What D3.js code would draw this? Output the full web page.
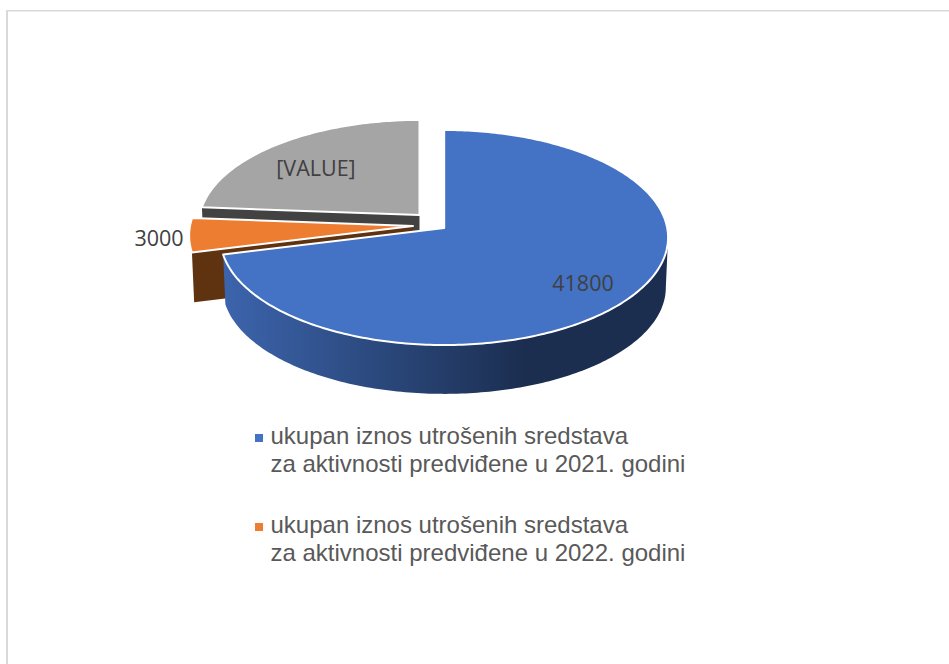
<!DOCTYPE html>
<meta charset="utf-8">
<style>
html, body { margin: 0; background: #fff; }
svg { display: block; }
.datalabel { font-family: 'Open Sans', sans-serif; font-size: 21.5px; fill: #404040; text-anchor: middle; }
.legendtext { font-family: 'Liberation Sans', Arial, sans-serif; font-size: 24px; fill: #595959; }
</style>
<body>
<script src="https://cdn.jsdelivr.net/npm/d3@7"></script>
<script>
"use strict";

// data
var values = [41800, 3000, 14000];
var labels = ["41800", "3000", "[VALUE]"];
var legendNames = [
  ["ukupan iznos utrošenih sredstava", "za aktivnosti predviđene u 2021. godini"],
  ["ukupan iznos utrošenih sredstava", "za aktivnosti predviđene u 2022. godini"]
];

var topColors = ["#4472C4", "#ED7D31", "#A5A5A5"];
var sideColors = ["url(#blueside)", "#5F3210", "#424242"];

// layout of the tilted pie, one entry per slice (exploded slices have their own apex)
var apexX = [444.2, 413, 419.5];
var apexY = [228, 226, 215];
var scaleX = [1, 1, 0.985];
var scaleY = [1, 1, 0.97];
var labelX = [583, 159, 316];
var labelY = [291, 246, 176];

var width = 949, height = 664;
var depth = 50, lowerScale = 0.99;
var tilt = 106.7, persp = 0.0884;

var svg = d3.select("body").append("svg")
  .attr("width", width)
  .attr("height", height);

// chart frame, only top and left edges are in the crop
svg.append("rect").attr("x", 6).attr("y", 10).attr("width", width - 6).attr("height", 1.5).attr("fill", "#d9d9d9");
svg.append("rect").attr("x", 6).attr("y", 10).attr("width", 2).attr("height", height - 10).attr("fill", "#d9d9d9");

// side gradient of the big slice
var grad = svg.append("defs").append("linearGradient")
  .attr("id", "blueside")
  .attr("gradientUnits", "userSpaceOnUse")
  .attr("x1", 225).attr("x2", 525).attr("y1", 0).attr("y2", 0);
grad.append("stop").attr("offset", "0%").attr("stop-color", "#3C64AC");
grad.append("stop").attr("offset", "100%").attr("stop-color", "#1B2E50");

var arcs = d3.pie().sort(null)(values);
var rx = d3.scaleLinear().domain([0, 1]).range([0, 223]);
var ry = d3.scaleLinear().domain([0, 1]).range([0, tilt]);
var line = d3.line();

// pie angle to screen position, far side of the disc is a bit smaller
function project(i, a, r, lower) {
  var s = lower ? lowerScale : 1;
  var k = s / (1 + persp * Math.cos(a));
  return [
    apexX[i] + rx(r * Math.sin(a)) * k * scaleX[i],
    apexY[i] + (lower ? depth : 0) - ry(r * Math.cos(a)) * k * scaleY[i]
  ];
}

function rim(i, a0, a1, lower) {
  var n = Math.max(2, Math.ceil((a1 - a0) * 60));
  return d3.range(n + 1).map(function(j) {
    return project(i, a0 + (a1 - a0) * j / n, 1, lower);
  });
}

var sideFrom = 95 * Math.PI / 180;

// back to front
[2, 1, 0].forEach(function(i) {
  var d = arcs[i];
  var g = svg.append("g");

  if (i === 0) {
    // outer wall, only the big slice shows one
    var a0 = Math.max(d.startAngle, sideFrom);
    g.append("path")
      .attr("d", line(rim(i, a0, d.endAngle, false).concat(rim(i, a0, d.endAngle, true).reverse())) + "Z")
      .attr("fill", sideColors[i]);
  } else {
    // cut face on the slices pulled out of the pie
    g.append("path")
      .attr("d", line([
        project(i, d.startAngle, 0, false),
        project(i, d.startAngle, 1, false),
        project(i, d.startAngle, 1, true),
        project(i, d.startAngle, 0, true)
      ]) + "Z")
      .attr("fill", sideColors[i]);
  }

  // top face
  g.append("path")
    .attr("d", line([project(i, 0, 0, false)].concat(rim(i, d.startAngle, d.endAngle, false))) + "Z")
    .attr("fill", topColors[i])
    .attr("stroke", "#fff")
    .attr("stroke-width", 2)
    .attr("stroke-linejoin", "round");
});

// data labels
svg.selectAll(".datalabel")
  .data(labels)
  .enter()
  .append("text")
  .attr("class", "datalabel")
  .attr("x", function(d, i) { return labelX[i]; })
  .attr("y", function(d, i) { return labelY[i]; })
  .text(function(d) { return d; });

// legend
var legendY = d3.scaleLinear().domain([0, 1]).range([444, 533]);
legendNames.forEach(function(lines, i) {
  svg.append("rect")
    .attr("x", 255)
    .attr("y", legendY(i) - 10)
    .attr("width", 8)
    .attr("height", 8)
    .attr("fill", topColors[i]);
  lines.forEach(function(t, j) {
    svg.append("text")
      .attr("class", "legendtext")
      .attr("x", 270.5)
      .attr("y", legendY(i) + j * 28)
      .text(t);
  });
});
</script>
</body>
